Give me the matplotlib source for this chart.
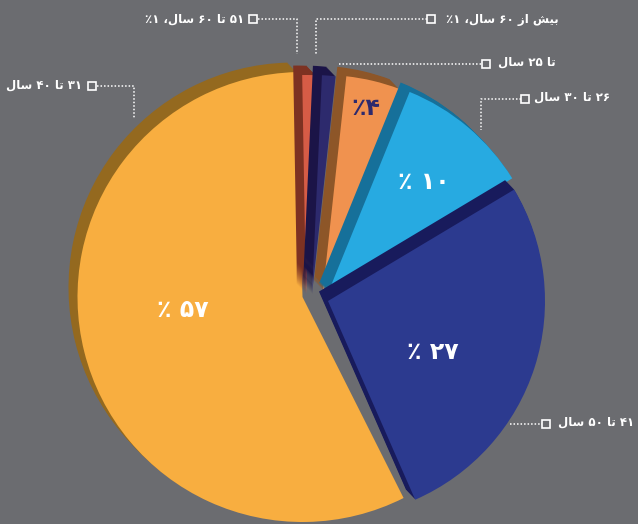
import matplotlib
matplotlib.use("Agg")
import matplotlib.pyplot as plt

# ---------------- data ----------------
groups = ["۵۱ تا ۶۰ سال، ۱٪", "بیش از ۶۰ سال، ۱٪", "تا ۲۵ سال",
          "۲۶ تا ۳۰ سال", "۴۱ تا ۵۰ سال", "۳۱ تا ۴۰ سال"]
shares = [1, 1, 4, 10, 27, 57]

# ---------------- style ----------------
W, H = 638, 524
BG = "#6b6c70"
face_colors = ["#d65c46", "#2d2a6d", "#f0924f", "#27aae1", "#2c3a8f", "#f8ae40"]
side_colors = ["#7d3222", "#1b1447", "#8d5628", "#16709a", "#181b5c", "#94691f"]
pct_colors = ["white", "white", "#2d2a6d", "white", "white", "white"]
# per-slice apex positions (image px), radii, rotation and drawing order
apex_x = [306, 312, 323, 328, 328, 302.5]
apex_y = [294, 294, 291, 293, 301, 297]
radii = [219, 219, 216, 217, 217, 225]
rot = [0, 0, 0, -1.5, -2.5, 0.5]
draw_rank = [1, 2, 3, 4, 5, 0]
DEPTH = 9          # extrusion steps (px, toward upper-left)
DY_PER_STEP = 1.05

# ---------------- Persian shaping helper ----------------
DUAL = {
    "ب": ("\uFE8F", "\uFE90", "\uFE91", "\uFE92"),
    "ت": ("\uFE95", "\uFE96", "\uFE97", "\uFE98"),
    "س": ("\uFEB1", "\uFEB2", "\uFEB3", "\uFEB4"),
    "ش": ("\uFEB5", "\uFEB6", "\uFEB7", "\uFEB8"),
    "ل": ("\uFEDD", "\uFEDE", "\uFEDF", "\uFEE0"),
    "ی": ("\uFBFC", "\uFBFD", "\uFEF3", "\uFEF4"),
}
RIGHT = {"ا": ("\uFE8D", "\uFE8E"), "ز": ("\uFEAF", "\uFEB0")}
DIGITS = set("۰۱۲۳۴۵۶۷۸۹0123456789")


def shape(s):
    out = []
    n = len(s)
    for i, ch in enumerate(s):
        prev = s[i - 1] if i > 0 else ""
        nxt = s[i + 1] if i < n - 1 else ""
        jp = prev in DUAL
        if ch in RIGHT:
            out.append(RIGHT[ch][1 if jp else 0])
        elif ch in DUAL:
            jn = nxt in DUAL or nxt in RIGHT
            f = DUAL[ch]
            out.append(f[3] if (jp and jn) else f[1] if jp else f[2] if jn else f[0])
        else:
            out.append(ch)
    runs = []
    for c in out:
        if c in DIGITS and runs and runs[-1][0] in DIGITS:
            runs[-1] += c
        else:
            runs.append(c)
    return "".join(reversed(runs))


fa = str.maketrans("0123456789", "۰۱۲۳۴۵۶۷۸۹")

# ---------------- figure ----------------
fig = plt.figure(figsize=(W / 100, H / 100), dpi=100, facecolor=BG)
ax = fig.add_axes([0, 0, 1, 1])
ax.set_facecolor(BG)

for k in list(range(DEPTH, 0, -1)) + [0]:
    cols = side_colors if k > 0 else face_colors
    wedges, _ = ax.pie(shares, colors=cols, startangle=91, counterclock=False,
                       radius=200, frame=True,
                       wedgeprops=dict(linewidth=0, antialiased=True))
    for i, w in enumerate(wedges):
        ox = -k
        oy = -k * DY_PER_STEP
        w.set_center((apex_x[i] + ox, H - (apex_y[i] + oy)))
        w.set_radius(radii[i])
        w.set_theta1(w.theta1 + rot[i])
        w.set_theta2(w.theta2 + rot[i])
        w.set_zorder(2 + draw_rank[i] * 2 + (1 if k == 0 else 0))

ax.set_xlim(0, W)
ax.set_ylim(0, H)
ax.axis("off")

# ---------------- percentage labels ----------------
pct_pos = [None, None, (366, 108), (424, 182), (433, 352), (183, 310)]
for i, v in enumerate(shares):
    if pct_pos[i] is None:
        continue
    sep = "" if v < 10 else " "
    txt = "٪" + sep + str(v).translate(fa)
    ax.text(pct_pos[i][0], H - pct_pos[i][1], txt, color=pct_colors[i],
            fontsize=17, fontweight="bold", ha="center", va="center",
            family=["DejaVu Sans"], zorder=20)

# ---------------- leader labels ----------------
LC = "white"


def leader(pts, box):
    xs = [p[0] for p in pts]
    ys = [H - p[1] for p in pts]
    ax.plot(xs, ys, color=LC, lw=1.1, ls=(0, (1, 1.3)), zorder=20)
    ax.plot([box[0]], [H - box[1]], marker="s", ms=5.5, mfc=BG, mec=LC,
            mew=1.2, zorder=21)


label_specs = [
    # text anchor, ha, leader path, box
    ((244, 19), "right", [(258, 19), (297, 19), (297, 54)], (253, 19)),
    ((446, 19), "left", [(427, 19), (316, 19), (316, 54)], (431, 19)),
    ((498, 62), "left", [(339, 64), (482, 64)], (486, 64)),
    ((534, 97), "left", [(521, 99), (481, 99), (481, 130)], (525, 99)),
    ((558, 422), "left", [(510, 424), (542, 424)], (546, 424)),
    ((82, 85), "right", [(97, 86), (134, 86), (134, 118)], (92, 86)),
]
for g, (pos, ha, path, box) in zip(groups, label_specs):
    leader(path, box)
    ax.text(pos[0], H - pos[1], shape(g), color="white", fontsize=8.5,
            fontweight="bold", ha=ha, va="center", family=["DejaVu Sans"],
            zorder=20)

fig.savefig("out.png", dpi=100, facecolor=BG)
